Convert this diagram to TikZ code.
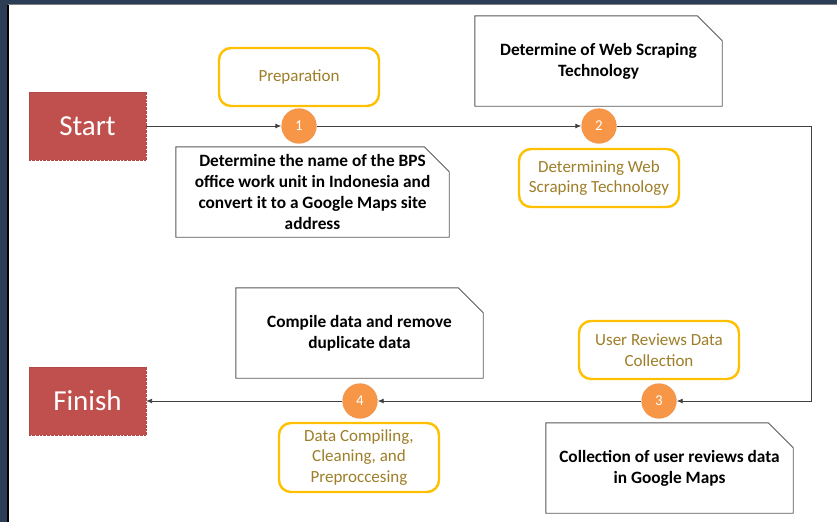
\documentclass[tikz,border=0pt]{standalone}
\usepackage{fontspec}
\setmainfont{Carlito}
\usetikzlibrary{arrows.meta}
\definecolor{framebg}{HTML}{2C3E56}
\definecolor{termred}{HTML}{C0504D}
\definecolor{circfill}{HTML}{F79646}
\definecolor{circedge}{HTML}{D9782F}
\definecolor{ybord}{HTML}{FFC000}
\definecolor{ytext}{HTML}{9E7E28}
\definecolor{lineg}{HTML}{404040}
\definecolor{boxg}{HTML}{595959}
\tikzset{
  term/.style={rectangle, fill=termred, draw=termred!90!black, densely dotted, line width=0.35pt,
    minimum width=117pt, minimum height=68pt, inner sep=0pt, text=white,
    font=\fontsize{29}{34}\selectfont},
  numcirc/.style={circle, fill=circfill, draw=circedge, densely dotted, line width=0.4pt,
    minimum size=35pt, inner sep=0pt, text=white, font=\fontsize{15}{18}\selectfont},
  phase/.style={rectangle, rounded corners=12pt, draw=ybord, line width=2.4pt, fill=white,
    minimum width=160pt, inner sep=0pt, align=center, text=ytext,
    font=\fontsize{17}{20.5}\selectfont},
  notebox/.style={rectangle, draw=none, inner sep=0pt, align=center,
    font=\bfseries\fontsize{17.3}{21}\selectfont},
  noteline/.style={draw=boxg, line width=0.9pt},
  flow/.style={draw=lineg, line width=0.9pt, -{Latex[length=6pt,width=5pt]}}
}
\begin{document}
\begin{tikzpicture}[x=1pt,y=-1pt]
\useasboundingbox (0,0) rectangle (837,522);
% frame
\fill[framebg] (0,0) rectangle (837,522);
\fill[white] (8,4.5) rectangle (837,522);
\draw[black, line width=1.6pt] (8,4.5) -- (8,522);
\draw[gray, line width=1.2pt] (8,4.5) -- (837,4.5);

% terminals
\node[term] (start) at (87.5,126) {Start};
\node[term] (finish) at (87.5,401) {Finish};

% circles
\node[numcirc] (c1) at (299,126) {1};
\node[numcirc] (c2) at (599,126) {2};
\node[numcirc] (c3) at (659,401) {3};
\node[numcirc] (c4) at (360,401) {4};

% phase boxes
\node[phase, minimum height=58pt] (prep) at (299,77) {Preparation};
\node[phase, minimum height=58pt] (web) at (599,178) {Determining Web\\Scraping Technology};
\node[phase, minimum height=58pt] (user) at (659,350) {User Reviews Data\\Collection};
\node[phase, minimum height=69pt] (comp) at (359,457.5) {Data Compiling,\\Cleaning, and\\Preproccesing};

% note boxes
\node[notebox, minimum width=273pt, minimum height=90pt] (n1) at (312.5,192)
  {Determine the name of the BPS\\office work unit in Indonesia and\\convert it to a Google Maps site\\address};
\node[notebox, minimum width=247pt, minimum height=90pt] (n2) at (598.5,61)
  {Determine of Web Scraping\\Technology};
\node[notebox, minimum width=247pt, minimum height=90pt] (n3) at (669.5,468)
  {Collection of user reviews data\\in Google Maps};
\node[notebox, minimum width=247pt, minimum height=90pt] (n4) at (359.5,333)
  {Compile data and remove\\duplicate data};
\foreach \n in {n1,n2,n3,n4}{
  \draw[noteline] (\n.north west) -- ([xshift=-25pt]\n.north east)
    -- ([yshift=-25pt]\n.north east) -- (\n.south east) -- (\n.south west) -- cycle;
}

% connectors
\coordinate (k1) at (811,126);
\coordinate (k2) at (811,401);
\draw[flow] (start.east) -- (c1.west);
\draw[flow] (c1.east) -- (c2.west);
\draw[flow] (c2.east) -- (k1) -- (k2) -- (c3.east);
\draw[flow] (c3.west) -- (c4.east);
\draw[flow] (c4.west) -- (finish.east);
\end{tikzpicture}
\end{document}
